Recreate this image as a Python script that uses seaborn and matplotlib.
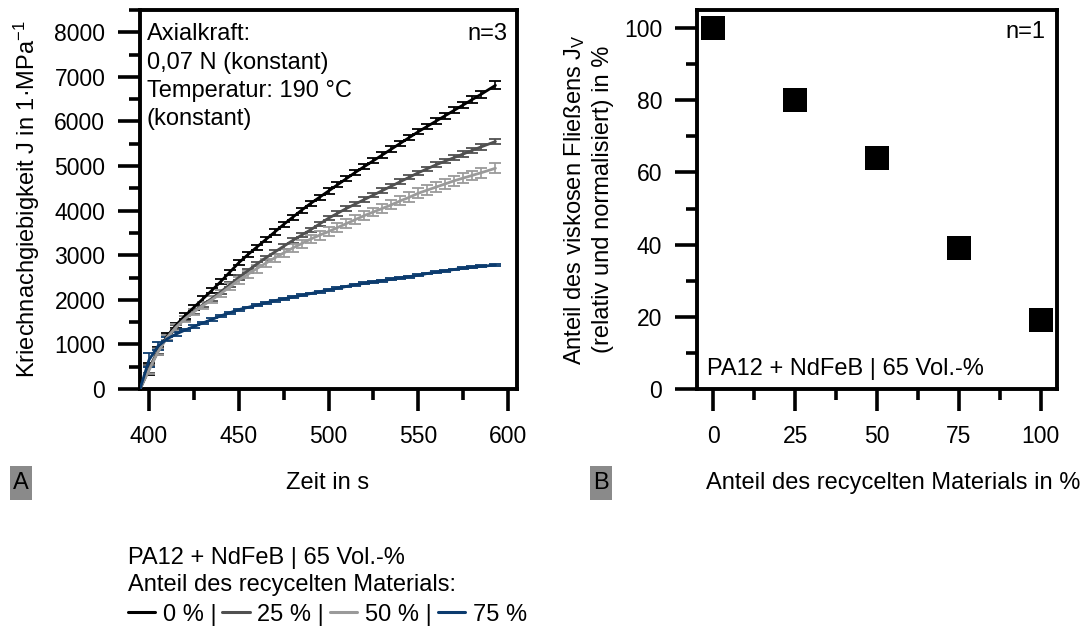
import numpy as np
import pandas as pd
import matplotlib
matplotlib.use("Agg")
import matplotlib.pyplot as plt
from matplotlib.lines import Line2D
from matplotlib.patches import Rectangle
from matplotlib.ticker import MultipleLocator
import seaborn as sns

# ---------------- data ----------------
time_s = [395, 400, 405, 410, 415, 420, 425, 430, 435, 440,
          445, 450, 455, 460, 465, 470, 475, 480, 485, 490,
          495, 500, 505, 510, 515, 520, 525, 530, 535, 540,
          545, 550, 555, 560, 565, 570, 575, 580, 585, 593]

J_0 = [0, 450, 850, 1180, 1430, 1640, 1830, 2020, 2210, 2410,
       2620, 2830, 3010, 3180, 3350, 3520, 3690, 3850, 4010, 4160,
       4300, 4440, 4580, 4720, 4860, 4990, 5120, 5250, 5380, 5510,
       5640, 5770, 5890, 6010, 6130, 6250, 6370, 6490, 6610, 6810]
J_25 = [0, 450, 850, 1160, 1390, 1580, 1740, 1890, 2030, 2180,
        2340, 2500, 2650, 2800, 2940, 3070, 3200, 3330, 3450, 3570,
        3700, 3830, 3940, 4050, 4150, 4250, 4350, 4450, 4550, 4650,
        4750, 4850, 4940, 5030, 5110, 5190, 5270, 5350, 5430, 5550]
J_50 = [0, 420, 830, 1150, 1380, 1570, 1730, 1870, 2000, 2140,
        2290, 2440, 2570, 2700, 2820, 2940, 3050, 3160, 3260, 3360,
        3450, 3530, 3620, 3710, 3800, 3890, 3970, 4050, 4130, 4220,
        4300, 4390, 4460, 4530, 4600, 4670, 4730, 4790, 4850, 4950]
J_75 = [0, 650, 960, 1120, 1230, 1320, 1400, 1480, 1560, 1640,
        1710, 1780, 1830, 1880, 1930, 1980, 2020, 2060, 2100, 2140,
        2180, 2220, 2260, 2300, 2340, 2370, 2400, 2430, 2460, 2490,
        2520, 2550, 2590, 2620, 2650, 2680, 2710, 2730, 2750, 2780]

err_0 = [0, 130, 90, 70, 60, 60, 60, 60, 60, 60,
         60, 60, 60, 60, 60, 60, 60, 60, 60, 60,
         60, 60, 60, 60, 60, 60, 60, 60, 60, 60,
         60, 60, 60, 60, 70, 70, 70, 80, 80, 90]
err_25 = [0, 80, 60, 50, 50, 50, 50, 50, 50, 50,
          50, 50, 50, 50, 50, 50, 50, 50, 50, 50,
          50, 50, 50, 50, 50, 50, 50, 50, 50, 50,
          50, 50, 50, 50, 50, 60, 60, 60, 60, 60]
err_50 = [0, 80, 70, 60, 70, 70, 70, 80, 80, 80,
          80, 80, 80, 90, 90, 90, 90, 90, 90, 90,
          100, 100, 100, 100, 100, 100, 100, 100, 100, 100,
          110, 110, 110, 110, 110, 110, 110, 110, 110, 110]
err_75 = [0, 160, 90, 50, 40, 30, 30, 25, 25, 20,
          20, 20, 20, 20, 20, 20, 20, 20, 20, 20,
          20, 20, 20, 20, 20, 20, 20, 20, 20, 20,
          20, 20, 20, 20, 20, 20, 20, 20, 20, 20]

series_labels = ["0 %", "25 %", "50 %", "75 %"]
series_colors = ["#000000", "#505050", "#9a9a9a", "#0b3b6e"]

recycled_share = [0, 25, 50, 75, 100]
viscous_share = [100, 80, 64, 39, 19]

info_lines = ["Axialkraft:", "0,07 N (konstant)", "Temperatur: 190 °C", "(konstant)"]

# ---------------- style ----------------
sns.set_theme(style="ticks")
plt.rcParams['font.family'] = ['Liberation Sans', 'DejaVu Sans']
plt.rcParams['mathtext.default'] = 'regular'
plt.rcParams['text.color'] = 'black'
plt.rcParams['axes.labelcolor'] = 'black'
plt.rcParams['xtick.color'] = 'black'
plt.rcParams['ytick.color'] = 'black'
FS = 17      # labels / annotations
TFS = 16.5   # tick labels
plt.rcParams['font.size'] = FS

W, H = 1092, 628
fig = plt.figure(figsize=(W / 100, H / 100), dpi=100)
fig.patch.set_facecolor("white")

def fx(px):
    return px / W

def fy(py):
    return 1 - py / H

axA = fig.add_axes([fx(140), fy(389), (517 - 140) / W, (389 - 10) / H])
axB = fig.add_axes([fx(697), fy(389), (1057 - 697) / W, (389 - 10) / H])

# ---------------- panel A ----------------
long = []
for lab, J, E in zip(series_labels, [J_0, J_25, J_50, J_75], [err_0, err_25, err_50, err_75]):
    for t, j, e in zip(time_s, J, E):
        long.append({"t": t, "J": j, "err": e, "share": lab})
dfA = pd.DataFrame(long)

palette = dict(zip(series_labels, series_colors))
for lab in series_labels:
    sub = dfA[dfA["share"] == lab]
    axA.errorbar(sub["t"], sub["J"], yerr=sub["err"], fmt="none",
                 ecolor=palette[lab], elinewidth=1.2, capsize=4.3, capthick=1.3, zorder=2)
sns.lineplot(data=dfA, x="t", y="J", hue="share", palette=palette,
             hue_order=series_labels, linewidth=2.0, ax=axA, legend=False,
             estimator=None, sort=True, zorder=3)

axA.set_xlim(395, 605)
axA.set_ylim(0, 8500)
axA.xaxis.set_major_locator(MultipleLocator(50))
axA.xaxis.set_minor_locator(MultipleLocator(25))
axA.yaxis.set_major_locator(MultipleLocator(1000))
axA.yaxis.set_minor_locator(MultipleLocator(500))
axA.set_xlabel("Zeit in s", fontsize=FS)
axA.set_ylabel("Kriechnachgiebigkeit J in 1·MPa$^{-1}$", fontsize=FS)
axA.xaxis.set_label_coords((328 - 140) / 377, (389 - 483) / 379)
axA.xaxis.label.set_va("center")
axA.yaxis.set_label_coords((27 - 140) / 377, 0.5)
axA.yaxis.label.set_va("center")

for i, line in enumerate(info_lines):
    fig.text(fx(147), fy(40.3 + 28.3 * i), line, ha="left", va="baseline",
             fontsize=FS, color="black")
fig.text(fx(507), fy(40.3), "n=3", ha="right", va="baseline", fontsize=FS, color="black")

# ---------------- panel B ----------------
dfB = pd.DataFrame({"recycled": recycled_share, "viscous": viscous_share})
sns.scatterplot(data=dfB, x="recycled", y="viscous", marker="s", s=275,
                color="black", linewidth=0, ax=axB, zorder=3, clip_on=False)
axB.set_xlim(-5, 105)
axB.set_ylim(0, 105)
axB.xaxis.set_major_locator(MultipleLocator(25))
axB.xaxis.set_minor_locator(MultipleLocator(12.5))
axB.yaxis.set_major_locator(MultipleLocator(20))
axB.yaxis.set_minor_locator(MultipleLocator(10))
axB.set_xlabel("Anteil des recycelten Materials in %", fontsize=FS)
axB.set_ylabel("Anteil des viskosen Fließens J$_V$\n(relativ und normalisiert) in %",
               fontsize=FS, linespacing=1.25)
axB.xaxis.set_label_coords((893 - 697) / 360, (389 - 483) / 379)
axB.xaxis.label.set_va("center")
axB.yaxis.set_label_coords((588 - 697) / 360, 0.5)
axB.yaxis.label.set_va("center")
fig.text(fx(1045), fy(38.3), "n=1", ha="right", va="baseline", fontsize=FS, color="black")
fig.text(fx(707), fy(375), "PA12 + NdFeB | 65 Vol.-%", ha="left", va="baseline",
         fontsize=FS, color="black")

# ---------------- common axis styling ----------------
for ax in (axA, axB):
    for sp in ax.spines.values():
        sp.set_visible(True)
        sp.set_linewidth(2.8)
        sp.set_color("black")
    ax.tick_params(axis="both", which="major", direction="out", length=16, width=2.6,
                   pad=9, labelsize=TFS, colors="black")
    ax.tick_params(axis="both", which="minor", direction="out", length=8, width=2.6,
                   colors="black")
    ax.tick_params(axis="x", which="major", pad=10)
    ax.set_facecolor("white")
    ax.grid(False)

# ---------------- panel letters ----------------
for letter, x0 in (("A", 10), ("B", 590)):
    fig.patches.append(Rectangle((fx(x0), fy(500)), 22 / W, 34 / H,
                                 transform=fig.transFigure, facecolor="#8a8a8a",
                                 edgecolor="none", zorder=1))
    fig.text(fx(x0 + 11), fy(483), letter, ha="center", va="center", fontsize=FS,
             color="black", zorder=2)

# ---------------- legend ----------------
handles = [Line2D([0], [0], color=c, lw=2.2) for c in series_colors]
leg_labels = ["0 % |", "25 % |", "50 % |", "75 %"]
leg = fig.legend(handles, leg_labels, loc="upper left", bbox_to_anchor=(fx(128), fy(547)),
                 ncol=4, frameon=False, fontsize=FS, title_fontsize=FS,
                 title="PA12 + NdFeB | 65 Vol.-%\nAnteil des recycelten Materials:",
                 alignment="left", borderpad=0, handlelength=1.15, handletextpad=0.33,
                 columnspacing=0.25, labelspacing=0.3, borderaxespad=0)
leg.get_title().set_linespacing(1.32)
leg.get_title().set_color("black")
for t in leg.get_texts():
    t.set_color("black")

fig.savefig("out.png", dpi=100, facecolor="white")
